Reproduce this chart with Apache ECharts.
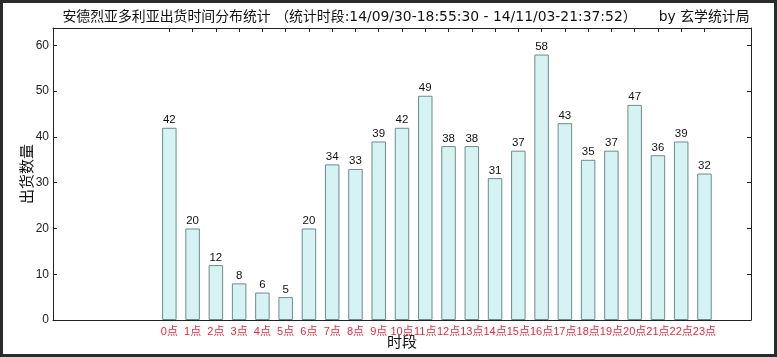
<!DOCTYPE html>
<html>
<head>
<meta charset="utf-8">
<script src="https://cdn.jsdelivr.net/npm/echarts@6/dist/echarts.min.js"></script>
<style>
html,body{margin:0;padding:0;background:#fff;}
#chart{width:777px;height:357px;}
</style>
</head>
<body>
<div id="chart"></div>
<script>
const hours = ['0点','1点','2点','3点','4点','5点','6点','7点','8点','9点','10点','11点','12点','13点','14点','15点','16点','17点','18点','19点','20点','21点','22点','23点'];
const counts = [42,20,12,8,6,5,20,34,33,39,42,49,38,38,31,37,58,43,35,37,47,36,39,32];
const yTicks = [0,10,20,30,40,50,60];
const titleText = '安德烈亚多利亚出货时间分布统计 （统计时段:14/09/30-18:55:30 - 14/11/03-21:37:52）     by 玄学统计局';

const FONT = "'DejaVu Sans','Noto Sans CJK SC',sans-serif";
const LFONT = "'Liberation Sans','Noto Sans CJK SC',sans-serif";
const positions = hours.map((h, i) => i);
const seriesData = counts.map((v, i) => [positions[i], v]);

const chart = echarts.init(document.getElementById('chart'));
chart.setOption({
  animation: false,
  backgroundColor: '#fff',
  title: {
    text: titleText,
    left: 401, top: 5, textAlign: 'center',
    textStyle: {fontFamily: FONT, fontSize: 13.9, fontWeight: 'normal', color: '#111'}
  },
  grid: {left: 53, right: 26, top: 28, bottom: 37, containLabel: false, outerBoundsMode: 'none'},
  xAxis: [{
    type: 'value', min: -5, max: 25,
    name: '时段', nameLocation: 'middle', nameGap: 23, nameMoveOverlap: false,
    nameTextStyle: {fontFamily: FONT, fontSize: 15, color: '#111', verticalAlign: 'middle'},
    axisLine: {show: true, onZero: false, lineStyle: {color: '#222', width: 1}},
    axisTick: {show: true, inside: true, length: 4, customValues: positions, lineStyle: {color: '#222'}},
    axisLabel: {show: true, customValues: positions, margin: 6, color: '#e8283c', fontSize: 11, fontFamily: LFONT,
      hideOverlap: false, showMinLabel: true, showMaxLabel: true,
      formatter: v => hours[Math.round(v)] || ''},
    splitLine: {show: false}
  }, {
    type: 'value', min: -5, max: 25, position: 'top',
    axisLine: {show: true, onZero: false, lineStyle: {color: '#222', width: 1}},
    axisTick: {show: true, inside: true, length: 4, customValues: positions, lineStyle: {color: '#222'}},
    axisLabel: {show: false},
    splitLine: {show: false}
  }],
  yAxis: [{
    type: 'value', min: 0, max: 63.8, interval: 10,
    name: '出货数量', nameLocation: 'middle', nameGap: 17, nameRotate: 90, nameMoveOverlap: false,
    nameTextStyle: {fontFamily: FONT, fontSize: 15, color: '#111'},
    axisLine: {show: true, onZero: false, lineStyle: {color: '#222', width: 1}},
    axisTick: {show: true, inside: true, length: 4, customValues: yTicks, lineStyle: {color: '#222'}},
    axisLabel: {show: true, customValues: yTicks, color: '#222', fontSize: 12, fontFamily: LFONT, margin: 4},
    splitLine: {show: false}
  }, {
    type: 'value', min: 0, max: 63.8, interval: 10, position: 'right',
    axisLine: {show: true, onZero: false, lineStyle: {color: '#222', width: 1}},
    axisTick: {show: true, inside: true, length: 4, customValues: yTicks, lineStyle: {color: '#222'}},
    axisLabel: {show: false},
    splitLine: {show: false}
  }],
  series: [{
    type: 'bar',
    xAxisIndex: 0, yAxisIndex: 0,
    data: seriesData,
    barWidth: 14.5,
    itemStyle: {color: '#d5f3f3', borderColor: '#6f8b8b', borderWidth: 1},
    label: {show: true, position: 'top', distance: 2, color: '#111', fontSize: 11.5, fontFamily: LFONT,
      formatter: p => String(p.value[1])}
  }],
  graphic: [{
    type: 'rect', silent: true, z: 100,
    shape: {x: 1.5, y: 1.5, width: 774, height: 354},
    style: {fill: 'none', stroke: '#2b2b2b', lineWidth: 3}
  }]
});
</script>
</body>
</html>
